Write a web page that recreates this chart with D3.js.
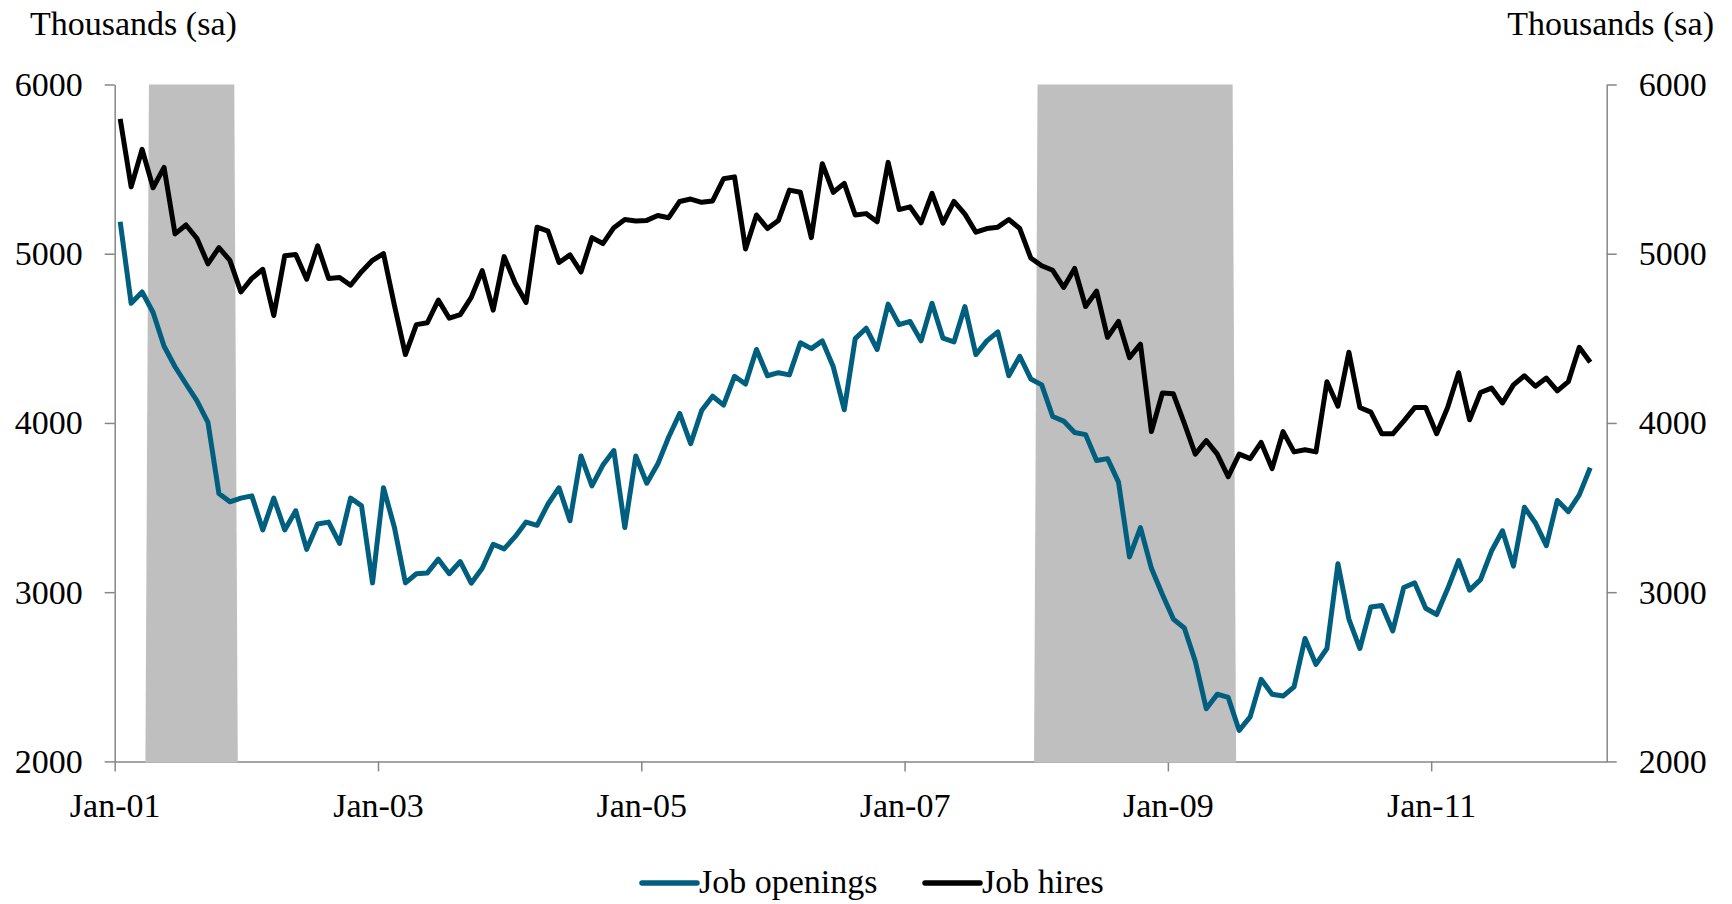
<!DOCTYPE html>
<html>
<head>
<meta charset="utf-8">
<title>Job openings and hires</title>
<style>
  body { margin: 0; background: #fff; }
  svg text { font-family: "Liberation Serif", "Times New Roman", serif; fill: #000; }
  .axis path, .axis line { stroke: #868686; stroke-width: 1.5px; }
</style>
</head>
<body>
<svg id="chart"></svg>
<script src="https://cdn.jsdelivr.net/npm/d3@7"></script>
<script>
// monthly values, Jan-01 .. Mar-12, thousands (sa)
const jobOpenings = [
  5189, 4707, 4774, 4653, 4453, 4332, 4230, 4131, 4003, 3583, 3534, 3556,
  3569, 3368, 3556, 3368, 3481, 3253, 3403, 3414, 3288, 3556, 3510, 3055,
  3617, 3382, 3055, 3109, 3114, 3195, 3109, 3181, 3053, 3141, 3283, 3256,
  3328, 3414, 3395, 3521, 3617, 3422, 3805, 3628, 3751, 3837, 3382, 3805,
  3644, 3757, 3917, 4056, 3877, 4073, 4158, 4105, 4276, 4230, 4434, 4279,
  4297, 4284, 4474, 4439, 4485, 4332, 4078, 4498, 4560, 4434, 4702, 4581,
  4600, 4485, 4707, 4501, 4479, 4688, 4404, 4485, 4538, 4279, 4394, 4260,
  4225, 4038, 4011, 3944, 3931, 3778, 3789, 3650, 3208, 3382, 3141, 2986,
  2841, 2788, 2592, 2311, 2397, 2378, 2183, 2263, 2485, 2397, 2386, 2440,
  2726, 2573, 2667, 3168, 2841, 2667, 2913, 2921, 2771, 3028, 3055, 2905,
  2868, 3020, 3186, 3012, 3074, 3243, 3363, 3154, 3502, 3409, 3275, 3542,
  3476, 3575, 3735
];
const jobHires = [
  5797, 5395, 5617, 5390, 5510, 5117, 5170, 5090, 4940, 5036, 4961, 4774,
  4854, 4908, 4635, 4988, 4996, 4849, 5047, 4854, 4860, 4814, 4894, 4961,
  5001, 4694, 4404, 4581, 4592, 4726, 4619, 4640, 4742, 4900, 4667, 4983,
  4827, 4712, 5157, 5133, 4948, 4993, 4892, 5095, 5060, 5154, 5202, 5194,
  5197, 5226, 5213, 5309, 5323, 5304, 5312, 5443, 5454, 5028, 5229, 5149,
  5197, 5376, 5363, 5095, 5532, 5363, 5416, 5229, 5237, 5189, 5540, 5261,
  5277, 5183, 5357, 5181, 5309, 5234, 5127, 5149, 5157, 5202, 5149, 4975,
  4929, 4902, 4801, 4913, 4688, 4779, 4506, 4600, 4386, 4466, 3949, 4177,
  4172, 3998, 3816, 3896, 3816, 3682, 3816, 3789, 3885, 3730, 3949, 3829,
  3842, 3829, 4244, 4099, 4418, 4091, 4064, 3936, 3936, 4011, 4091, 4091,
  3936, 4091, 4297, 4019, 4180, 4206, 4118, 4225, 4279, 4217, 4265, 4190,
  4244, 4447, 4359
];
const tickLabels = ["Jan-01", "Jan-03", "Jan-05", "Jan-07", "Jan-09", "Jan-11"];
const yTicks = [2000, 3000, 4000, 5000, 6000];
const recessions = [["Apr-01", "Nov-01"], ["Jan-08", "Jun-09"]];
const firstMonth = "Jan-01", lastMonth = "Apr-12";

const parseMonth = d3.timeParse("%b-%y");
function monthIndex(s) {
    const d = parseMonth(s), d0 = parseMonth(firstMonth);
    return (d.getFullYear() - d0.getFullYear()) * 12 + d.getMonth() - d0.getMonth();
}

const svgWidth = 1732, svgHeight = 904;
const margin = {top: 84.5, right: 125.3, bottom: 142.6, left: 114.7};
const width = svgWidth - margin.left - margin.right;
const height = svgHeight - margin.top - margin.bottom;

const svg = d3.select("#chart")
    .attr("width", svgWidth)
    .attr("height", svgHeight);
const g = svg.append("g")
    .attr("transform", "translate(" + margin.left + "," + margin.top + ")");

const x = d3.scaleLinear()
    .domain([0, monthIndex(lastMonth) + 1])
    .range([0, width]);
const y = d3.scaleLinear()
    .domain([2000, 6000])
    .range([height, 0]);

// axes
g.append("g")
    .attr("class", "axis")
    .attr("transform", "translate(0," + height + ")")
    .call(d3.axisBottom(x)
        .tickValues(tickLabels.map(monthIndex))
        .tickFormat(function(d, i) { return tickLabels[i]; })
        .tickSize(10).tickSizeOuter(0).tickPadding(21));

g.append("g")
    .attr("class", "axis")
    .call(d3.axisLeft(y).tickValues(yTicks).tickFormat(d3.format("d"))
        .tickSize(10).tickSizeOuter(0).tickPadding(22));

g.append("g")
    .attr("class", "axis")
    .attr("transform", "translate(" + width + ",0)")
    .call(d3.axisRight(y).tickValues(yTicks).tickFormat(d3.format("d"))
        .tickSize(10).tickSizeOuter(0).tickPadding(22));

g.selectAll(".axis text").style("font-size", "34px").attr("fill", "#000");
g.selectAll(".axis .domain").attr("stroke", "#868686");

// recession shading
g.selectAll(".recession")
    .data(recessions)
    .enter().append("path")
    .attr("class", "recession")
    .attr("fill", "#bfbfbf")
    .attr("d", function(r) {
        const a = monthIndex(r[0]), b = monthIndex(r[1]) + 1;
        return "M" + x(a - 0.2) + "," + (y(2000) + 1) +
            "L" + x(a + 0.12) + "," + y(6000) +
            "L" + x(b - 0.1) + "," + y(6000) +
            "L" + x(b + 0.22) + "," + (y(2000) + 1) + "Z";
    });

// series
const line = d3.line()
    .x(function(d, i) { return x(i + 0.5); })
    .y(function(d) { return y(d); });

g.append("path")
    .datum(jobHires)
    .attr("fill", "none")
    .attr("stroke", "#000")
    .attr("stroke-width", 5)
    .attr("stroke-linejoin", "round")
    .attr("d", line);

g.append("path")
    .datum(jobOpenings)
    .attr("fill", "none")
    .attr("stroke", "#005f7f")
    .attr("stroke-width", 5)
    .attr("stroke-linejoin", "round")
    .attr("d", line);

// axis titles
svg.append("text")
    .attr("x", 30)
    .attr("y", 35)
    .style("font-size", "34px")
    .text("Thousands (sa)");
svg.append("text")
    .attr("x", 1714)
    .attr("y", 35)
    .attr("text-anchor", "end")
    .style("font-size", "34px")
    .text("Thousands (sa)");

// legend
const legend = [
    {name: "Job openings", color: "#005f7f", x: 642},
    {name: "Job hires", color: "#000", x: 925}
];
const lg = svg.selectAll(".legend")
    .data(legend)
    .enter().append("g")
    .attr("class", "legend")
    .attr("transform", function(d) { return "translate(" + d.x + ",883)"; });
lg.append("line")
    .attr("x1", 0).attr("x2", 55)
    .attr("stroke", function(d) { return d.color; })
    .attr("stroke-width", 5.5)
    .attr("stroke-linecap", "round");
lg.append("text")
    .attr("x", 57)
    .attr("y", 10)
    .style("font-size", "34px")
    .text(function(d) { return d.name; });
</script>
</body>
</html>
